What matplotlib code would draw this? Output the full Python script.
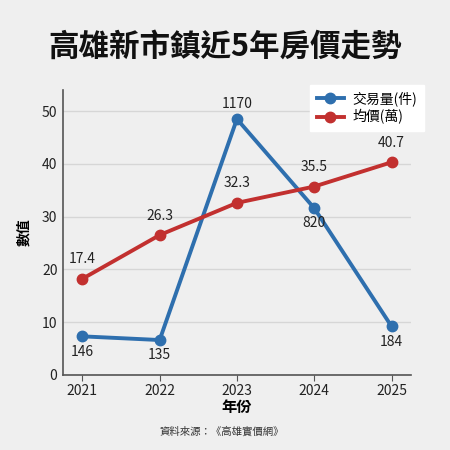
import matplotlib
matplotlib.use("Agg")
import matplotlib.pyplot as plt

plt.rcParams["font.family"] = ["Noto Sans CJK TC", "DejaVu Sans"]

years = [2021, 2022, 2023, 2024, 2025]
# 交易量: plotted height on the shared axis and the printed count
volume_pos = [7.3, 6.6, 48.5, 31.6, 9.2]
volume_labels = ["146", "135", "1170", "820", "184"]
# 均價 (萬)
price_pos = [18.2, 26.5, 32.6, 35.7, 40.3]
price_labels = ["17.4", "26.3", "32.3", "35.5", "40.7"]

BG = "#efefef"
BLUE = "#2e6fae"
RED = "#c2302f"

fig = plt.figure(figsize=(4.5, 4.5), dpi=100, facecolor=BG)
ax = fig.add_axes([0.14, 0.167, 0.773, 0.633], facecolor=BG)

ax.plot(years, volume_pos, color=BLUE, lw=2.8, marker="o", ms=7.5, label="交易量(件)", zorder=3)
ax.plot(years, price_pos, color=RED, lw=2.8, marker="o", ms=7.5, label="均價(萬)", zorder=3)

for x, y, t in zip(years, volume_pos, volume_labels):
    if t == "1170":
        ax.annotate(t, (x, y), xytext=(0, 11), textcoords="offset points",
                    ha="center", va="center", fontsize=10, color="#222222")
    else:
        ax.annotate(t, (x, y), xytext=(0, -11), textcoords="offset points",
                    ha="center", va="center", fontsize=10, color="#222222")
for x, y, t in zip(years, price_pos, price_labels):
    ax.annotate(t, (x, y), xytext=(0, 14), textcoords="offset points",
                ha="center", va="center", fontsize=10, color="#222222")

ax.set_xlim(2020.75, 2025.25)
ax.set_ylim(0, 54)
ax.set_xticks(years)
ax.set_yticks([0, 10, 20, 30, 40, 50])
ax.tick_params(labelsize=10, colors="#222222", length=4, color="#555555", pad=2.5)
ax.yaxis.set_tick_params(length=0, pad=4)
ax.grid(axis="y", color="#d6d6d6", lw=1)
ax.set_axisbelow(True)
for s in ["top", "right"]:
    ax.spines[s].set_visible(False)
for s in ["left", "bottom"]:
    ax.spines[s].set_color("#555555")
    ax.spines[s].set_linewidth(1.2)

ax.set_xlabel("年份", fontsize=11, fontweight="bold", labelpad=1)
ax.set_ylabel("數值", fontsize=10, fontweight="bold", labelpad=8)

leg = ax.legend(loc="upper right", bbox_to_anchor=(1.037, 1.018), borderaxespad=0,
                fontsize=10, frameon=True, facecolor="white", edgecolor="white",
                framealpha=1, fancybox=False, handlelength=2.0, handletextpad=0.6,
                borderpad=0.45, labelspacing=0.25)

fig.text(0.5, 0.897, "高雄新市鎮近5年房價走勢", ha="center", va="center",
         fontsize=22, fontweight="bold", color="#111111")
fig.text(0.493, 0.04, "資料來源：《高雄實價網》", ha="center", va="center",
         fontsize=7.5, color="#333333")

fig.savefig("out.png", dpi=100, facecolor=BG)
